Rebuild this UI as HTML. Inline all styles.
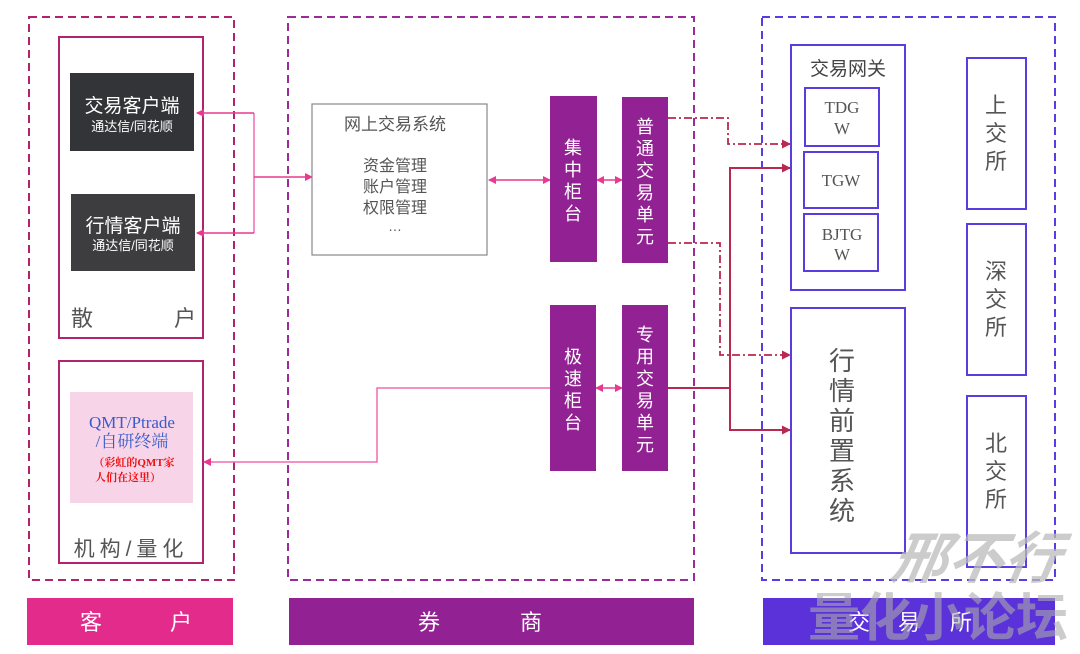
<!DOCTYPE html>
<html><head><meta charset="utf-8"><style>
html,body{margin:0;padding:0;background:#fff;}
svg{display:block;font-family:"Liberation Sans","Noto Sans CJK SC",sans-serif;}
.serif{font-family:"Liberation Serif","Noto Serif CJK SC",serif;}
</style></head><body>
<svg width="1080" height="654" viewBox="0 0 1080 654" xmlns="http://www.w3.org/2000/svg">
<defs>
<marker id="ap" markerWidth="8" markerHeight="8" refX="7" refY="4" orient="auto" markerUnits="userSpaceOnUse"><path d="M0,0 L8,4 L0,8z" fill="#e8388f"/></marker>
<marker id="apr" markerWidth="8" markerHeight="8" refX="1" refY="4" orient="auto" markerUnits="userSpaceOnUse"><path d="M8,0 L0,4 L8,8z" fill="#e8388f"/></marker>
<marker id="ar" markerWidth="9" markerHeight="9" refX="8" refY="4.5" orient="auto" markerUnits="userSpaceOnUse"><path d="M0,0 L9,4.5 L0,9z" fill="#b8284f"/></marker>
</defs>
<!-- outer dashed -->
<rect x="29" y="17" width="205" height="563" fill="none" stroke="#b0246e" stroke-width="2" stroke-dasharray="8,5"/>
<rect x="288" y="17" width="406" height="563" fill="none" stroke="#9b2a9b" stroke-width="2" stroke-dasharray="8,5"/>
<rect x="762" y="17" width="293" height="563" fill="none" stroke="#5b3ce0" stroke-width="2" stroke-dasharray="8,5"/>
<!-- bottom bars -->
<rect x="27" y="598" width="206" height="47" fill="#e22b8b"/>
<rect x="289" y="598" width="405" height="47" fill="#922193"/>
<rect x="763" y="598" width="292" height="47" fill="#5b32d9"/>
<text x="80" y="630" font-size="22" fill="#fff">客</text><text x="170" y="630" font-size="22" fill="#fff">户</text>
<text x="418" y="630" font-size="22" fill="#fff">券</text><text x="520" y="630" font-size="22" fill="#fff">商</text>
<text x="848" y="630" font-size="22" fill="#fff">交</text><text x="898" y="630" font-size="22" fill="#fff">易</text><text x="950" y="630" font-size="22" fill="#fff">所</text>
<!-- customer -->
<rect x="59" y="37" width="144" height="301" fill="none" stroke="#b0246e" stroke-width="2"/>
<rect x="70" y="73" width="124" height="78" fill="#333438"/>
<text x="132" y="112" font-size="19" fill="#fff" text-anchor="middle">交易客户端</text>
<text x="132" y="131" font-size="13" fill="#fff" text-anchor="middle">通达信/同花顺</text>
<rect x="71" y="194" width="124" height="77" fill="#3d3d3f"/>
<text x="133" y="232" font-size="19" fill="#fff" text-anchor="middle">行情客户端</text>
<text x="133" y="250" font-size="13" fill="#fff" text-anchor="middle">通达信/同花顺</text>
<text x="71" y="326" font-size="22" fill="#555">散</text><text x="174" y="326" font-size="22" fill="#555">户</text>
<rect x="59" y="361" width="144" height="202" fill="none" stroke="#b0246e" stroke-width="2"/>
<rect x="70" y="392" width="123" height="111" fill="#f7d4e8"/>
<text x="132" y="428" font-size="17" fill="#3a5bc8" text-anchor="middle" class="serif">QMT/Ptrade</text>
<text x="132" y="447" font-size="17" fill="#3a5bc8" text-anchor="middle" class="serif">/自研终端</text>
<text x="134" y="466" font-size="11" fill="#f01010" font-weight="bold" text-anchor="middle" class="serif">（彩虹的QMT家</text>
<text x="128" y="481" font-size="11" fill="#f01010" font-weight="bold" text-anchor="middle" class="serif">人们在这里）</text>
<text x="131" y="556" font-size="21" fill="#555" text-anchor="middle" letter-spacing="5">机构/量化</text>
<!-- pink connectors -->
<polyline points="254,113 254,233" fill="none" stroke="#f06bb0" stroke-width="1.5"/>
<line x1="254" y1="113" x2="197" y2="113" stroke="#e8388f" stroke-width="1.5" marker-end="url(#ap)"/>
<line x1="254" y1="233" x2="197" y2="233" stroke="#e8388f" stroke-width="1.5" marker-end="url(#ap)"/>
<line x1="254" y1="177" x2="312" y2="177" stroke="#e8388f" stroke-width="1.5" marker-end="url(#ap)"/>
<polyline points="550,388 377,388 377,462 204,462" fill="none" stroke="#f06bb0" stroke-width="1.5" marker-end="url(#ap)"/>
<line x1="489" y1="180" x2="550" y2="180" stroke="#e8388f" stroke-width="1.5" marker-start="url(#apr)" marker-end="url(#ap)"/>
<line x1="597" y1="180" x2="622" y2="180" stroke="#e8388f" stroke-width="1.5" marker-start="url(#apr)" marker-end="url(#ap)"/>
<line x1="596" y1="388" x2="622" y2="388" stroke="#e8388f" stroke-width="1.5" marker-start="url(#apr)" marker-end="url(#ap)"/>
<!-- broker -->
<rect x="312" y="104" width="175" height="151" fill="#fff" stroke="#888" stroke-width="1.2"/>
<text x="395" y="130" font-size="17" fill="#555" text-anchor="middle">网上交易系统</text>
<text x="395" y="171" font-size="16" fill="#555" text-anchor="middle">资金管理</text>
<text x="395" y="192" font-size="16" fill="#555" text-anchor="middle">账户管理</text>
<text x="395" y="213" font-size="16" fill="#555" text-anchor="middle">权限管理</text>
<text x="395" y="231" font-size="14" fill="#555" text-anchor="middle">…</text>
<rect x="550" y="96" width="47" height="166" fill="#922193"/>
<text font-size="18" fill="#fff" text-anchor="middle"><tspan x="573" y="154">集</tspan><tspan x="573" y="176">中</tspan><tspan x="573" y="198">柜</tspan><tspan x="573" y="220">台</tspan></text>
<rect x="622" y="97" width="46" height="166" fill="#922193"/>
<text font-size="18" fill="#fff" text-anchor="middle"><tspan x="645" y="133">普</tspan><tspan x="645" y="155">通</tspan><tspan x="645" y="177">交</tspan><tspan x="645" y="199">易</tspan><tspan x="645" y="221">单</tspan><tspan x="645" y="243">元</tspan></text>
<rect x="550" y="305" width="46" height="166" fill="#922193"/>
<text font-size="18" fill="#fff" text-anchor="middle"><tspan x="573" y="363">极</tspan><tspan x="573" y="385">速</tspan><tspan x="573" y="407">柜</tspan><tspan x="573" y="429">台</tspan></text>
<rect x="622" y="305" width="46" height="166" fill="#922193"/>
<text font-size="18" fill="#fff" text-anchor="middle"><tspan x="645" y="341">专</tspan><tspan x="645" y="363">用</tspan><tspan x="645" y="385">交</tspan><tspan x="645" y="407">易</tspan><tspan x="645" y="429">单</tspan><tspan x="645" y="451">元</tspan></text>
<!-- red connectors -->
<polyline points="668,118 728,118 728,144 790,144" fill="none" stroke="#b8284f" stroke-width="1.8" stroke-dasharray="8,3,2,3" marker-end="url(#ar)"/>
<polyline points="668,243 720,243 720,355 790,355" fill="none" stroke="#b8284f" stroke-width="1.8" stroke-dasharray="8,3,2,3" marker-end="url(#ar)"/>
<polyline points="668,388 730,388" fill="none" stroke="#b8284f" stroke-width="2"/>
<polyline points="730,430 730,168 790,168" fill="none" stroke="#b8284f" stroke-width="2" marker-end="url(#ar)"/>
<polyline points="730,388 730,430 790,430" fill="none" stroke="#b8284f" stroke-width="2" marker-end="url(#ar)"/>
<!-- exchange -->
<rect x="791" y="45" width="114" height="245" fill="none" stroke="#5b3ce0" stroke-width="2"/>
<text x="848" y="75" font-size="19" fill="#444" text-anchor="middle">交易网关</text>
<rect x="805" y="88" width="74" height="58" fill="none" stroke="#5b3ce0" stroke-width="2"/>
<text x="842" y="113" font-size="17" fill="#555" text-anchor="middle" class="serif">TDG</text><text x="842" y="134" font-size="17" fill="#555" text-anchor="middle" class="serif">W</text>
<rect x="804" y="152" width="74" height="56" fill="none" stroke="#5b3ce0" stroke-width="2"/>
<text x="841" y="186" font-size="17" fill="#555" text-anchor="middle" class="serif">TGW</text>
<rect x="804" y="214" width="74" height="57" fill="none" stroke="#5b3ce0" stroke-width="2"/>
<text x="842" y="240" font-size="17" fill="#555" text-anchor="middle" class="serif">BJTG</text><text x="842" y="260" font-size="17" fill="#555" text-anchor="middle" class="serif">W</text>
<rect x="791" y="308" width="114" height="245" fill="none" stroke="#5b3ce0" stroke-width="2"/>
<text font-size="26" fill="#555" text-anchor="middle"><tspan x="842" y="370">行</tspan><tspan x="842" y="400">情</tspan><tspan x="842" y="430">前</tspan><tspan x="842" y="460">置</tspan><tspan x="842" y="490">系</tspan><tspan x="842" y="520">统</tspan></text>
<rect x="967" y="58" width="59" height="151" fill="none" stroke="#5b3ce0" stroke-width="2"/>
<text font-size="22" fill="#555" text-anchor="middle"><tspan x="996" y="113">上</tspan><tspan x="996" y="141">交</tspan><tspan x="996" y="169">所</tspan></text>
<rect x="967" y="224" width="59" height="151" fill="none" stroke="#5b3ce0" stroke-width="2"/>
<text font-size="22" fill="#555" text-anchor="middle"><tspan x="996" y="279">深</tspan><tspan x="996" y="307">交</tspan><tspan x="996" y="335">所</tspan></text>
<rect x="967" y="396" width="59" height="171" fill="none" stroke="#5b3ce0" stroke-width="2"/>
<text font-size="22" fill="#555" text-anchor="middle"><tspan x="996" y="451">北</tspan><tspan x="996" y="479">交</tspan><tspan x="996" y="507">所</tspan></text>
<!-- watermark -->
<text x="975" y="578" font-size="56" font-weight="bold" font-style="italic" fill="#bbb" fill-opacity="0.75" text-anchor="middle" transform="skewX(-10) translate(100,0)">邢不行</text>
<text x="938" y="636" font-size="52" font-weight="bold" fill="#aaa" fill-opacity="0.6" text-anchor="middle">量化小论坛</text>
</svg>
</body></html>
